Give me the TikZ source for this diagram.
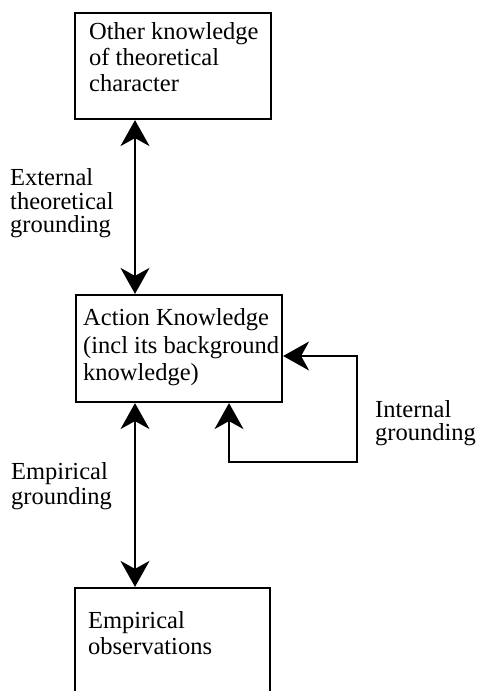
\documentclass[tikz,border=0pt]{standalone}
\usepackage{fontspec}
\setmainfont{Liberation Serif}
\usetikzlibrary{arrows.meta}
\tikzset{
  box/.style={draw, line width=2.2pt, rectangle, inner sep=0pt},
  txt/.style={anchor=north west, inner sep=0pt, align=left, font=\fontsize{24.5}{26}\selectfont},
  tip/.style={Stealth[length=26pt,width=29pt,inset=8pt]},
  conn/.style={line width=1.8pt, {Stealth[length=26pt,width=29pt,inset=8pt]}-{Stealth[length=26pt,width=29pt,inset=8pt]}}
}
\begin{document}
\begin{tikzpicture}[x=1pt,y=-1pt]
\useasboundingbox (0,0) rectangle (477,691);
\clip (0,0) rectangle (477,691);
% boxes
\node[box, minimum width=196pt, minimum height=106pt] (top) at (173,66) {};
\node[box, minimum width=206pt, minimum height=107pt] (mid) at (179,348.5) {};
\node[box, minimum width=195pt, minimum height=132pt] (bot) at (172.5,654) {};
% box texts
\node[txt] (toptxt) at (89,22.3) {Other knowledge\\of theoretical\\character};
\node[txt, font=\fontsize{24.5}{27.5}\selectfont] (midtxt) at (83,308.3) {Action Knowledge\\(incl its background\\knowledge)};
\node[txt, font=\fontsize{24.5}{25.5}\selectfont] (bottxt) at (88,611.3) {Empirical\\observations};
% labels
\node[txt, font=\fontsize{24.5}{23.5}\selectfont] (extlbl) at (10,168.3) {External\\theoretical\\grounding};
\node[txt, font=\fontsize{24.5}{25}\selectfont] (emplbl) at (11,462.3) {Empirical\\grounding};
\node[txt, font=\fontsize{24.5}{23}\selectfont] (intlbl) at (375,400.3) {Internal\\grounding};
% connector helpers
\coordinate (ax) at (135,0);
\coordinate (lp1) at (229,462);
\coordinate (lp2) at (357,462);
\coordinate (lp3) at (357,356);
% connectors
\draw[conn] (top.south -| ax) -- (mid.north -| ax);
\draw[conn] (mid.south -| ax) -- (bot.north -| ax);
\draw[conn] (mid.south -| lp1) -- (lp1) -- (lp2) -- (lp3) -- (mid.east |- lp3);
\end{tikzpicture}
\end{document}
